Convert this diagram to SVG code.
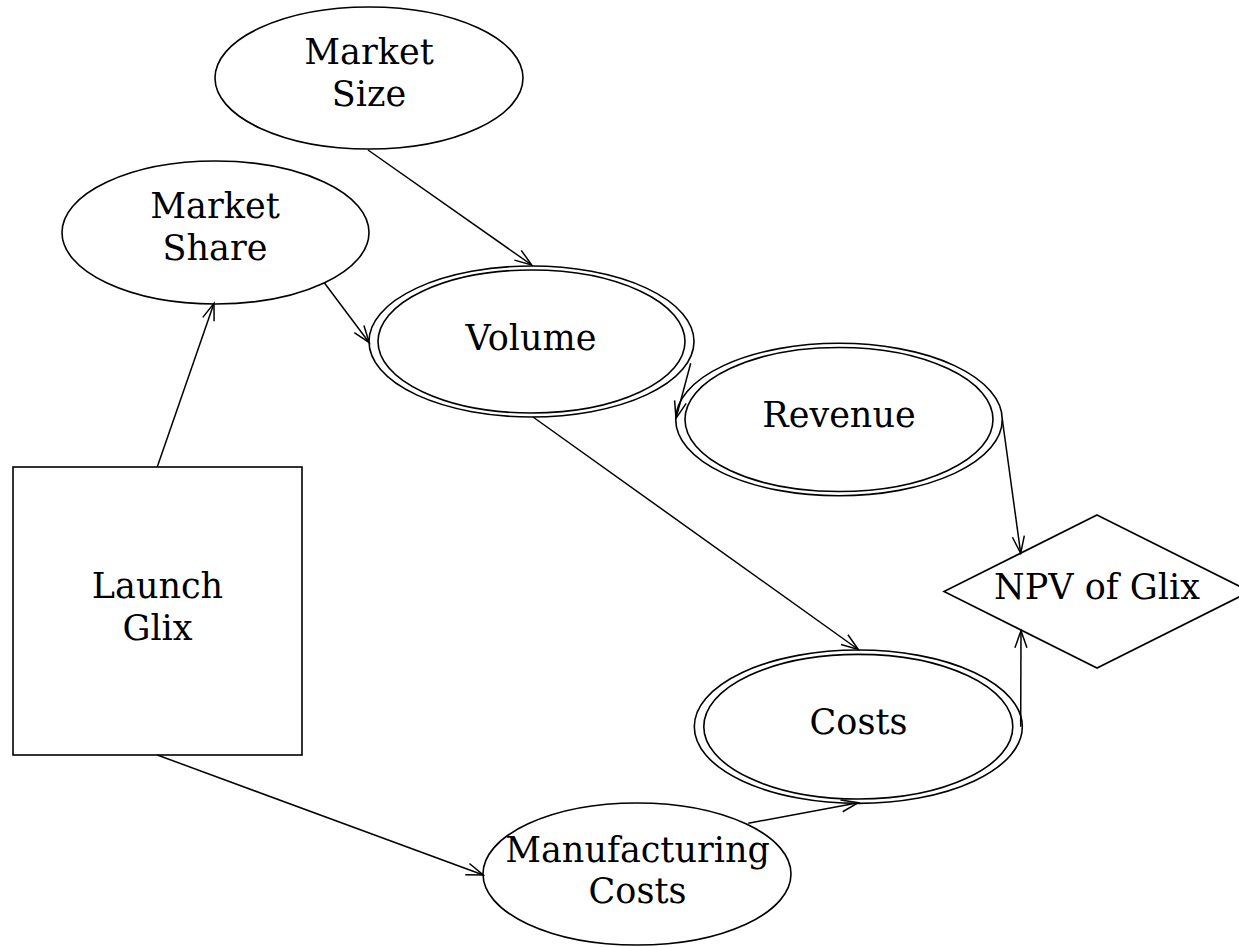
<svg xmlns="http://www.w3.org/2000/svg" width="1239" height="947" viewBox="0 0 1239 947">
<style>
.shape{fill:#fff;stroke:#000;stroke-width:1.6}
.inner{fill:none;stroke:#000;stroke-width:1.6}
.lbl{font-family:"DejaVu Serif","Liberation Serif",serif;font-size:35px;fill:#000;text-anchor:middle}
.edge{fill:none;stroke:#000;stroke-width:1.5;marker-end:url(#arr)}
</style>
<defs>
<marker id="arr" markerUnits="userSpaceOnUse" markerWidth="24" markerHeight="16" viewBox="-20 -8 24 16" refX="0" refY="0" orient="auto">
<path d="M -17 -6 L 0 0 L -17 6" fill="none" stroke="#000" stroke-width="1.5"/>
</marker>
</defs>
<rect width="1239" height="947" fill="#fff"/>
<g id="node-market-size">
<ellipse class="shape" cx="369" cy="78" rx="154" ry="71"/>
<text class="lbl" x="369" y="64">Market</text>
<text class="lbl" x="369" y="106">Size</text>
</g>
<g id="node-market-share">
<ellipse class="shape" cx="215.5" cy="232.5" rx="153.5" ry="71.5"/>
<text class="lbl" x="215" y="218">Market</text>
<text class="lbl" x="215" y="260">Share</text>
</g>
<g id="node-volume">
<ellipse class="shape" cx="531.5" cy="341.5" rx="162.5" ry="75.5"/>
<ellipse class="inner" cx="531.5" cy="341.5" rx="153.5" ry="71.5"/>
<text class="lbl" x="531" y="350">Volume</text>
</g>
<g id="node-revenue">
<ellipse class="shape" cx="839" cy="419.5" rx="163.3" ry="76.2"/>
<ellipse class="inner" cx="839" cy="419.5" rx="154" ry="72"/>
<text class="lbl" x="839" y="427">Revenue</text>
</g>
<g id="node-costs">
<ellipse class="shape" cx="858.3" cy="726.7" rx="164" ry="76.7"/>
<ellipse class="inner" cx="858.3" cy="726.7" rx="154.5" ry="72.3"/>
<text class="lbl" x="858.5" y="734">Costs</text>
</g>
<g id="node-manufacturing-costs">
<ellipse class="shape" cx="637" cy="874" rx="154" ry="71"/>
<text class="lbl" x="637.5" y="862">Manufacturing</text>
<text class="lbl" x="637.5" y="903">Costs</text>
</g>
<g id="node-launch-glix">
<rect class="shape" x="13" y="467" width="289" height="288"/>
<text class="lbl" x="157.5" y="598">Launch</text>
<text class="lbl" x="157.5" y="640">Glix</text>
</g>
<g id="node-npv">
<polygon class="shape" points="1097,515 1250,591.5 1097,668 944,591.5"/>
<text class="lbl" x="1097" y="599">NPV of Glix</text>
</g>
<g id="connectors">
<line class="edge" x1="368" y1="150" x2="531.7" y2="265"/>
<line class="edge" x1="324.3" y1="282.7" x2="369.3" y2="342.7"/>
<line class="edge" x1="157.3" y1="466.7" x2="214" y2="303.3"/>
<line class="edge" x1="690.7" y1="363.3" x2="676" y2="418.3"/>
<line class="edge" x1="533" y1="417" x2="858.3" y2="649.5"/>
<line class="edge" x1="1002.3" y1="419.3" x2="1020.7" y2="553.3"/>
<line class="edge" x1="1020.7" y1="726.7" x2="1021" y2="630.7"/>
<line class="edge" x1="157.3" y1="755" x2="483.3" y2="875"/>
<line class="edge" x1="748.3" y1="823.3" x2="858.3" y2="802.7"/>
</g>
</svg>
